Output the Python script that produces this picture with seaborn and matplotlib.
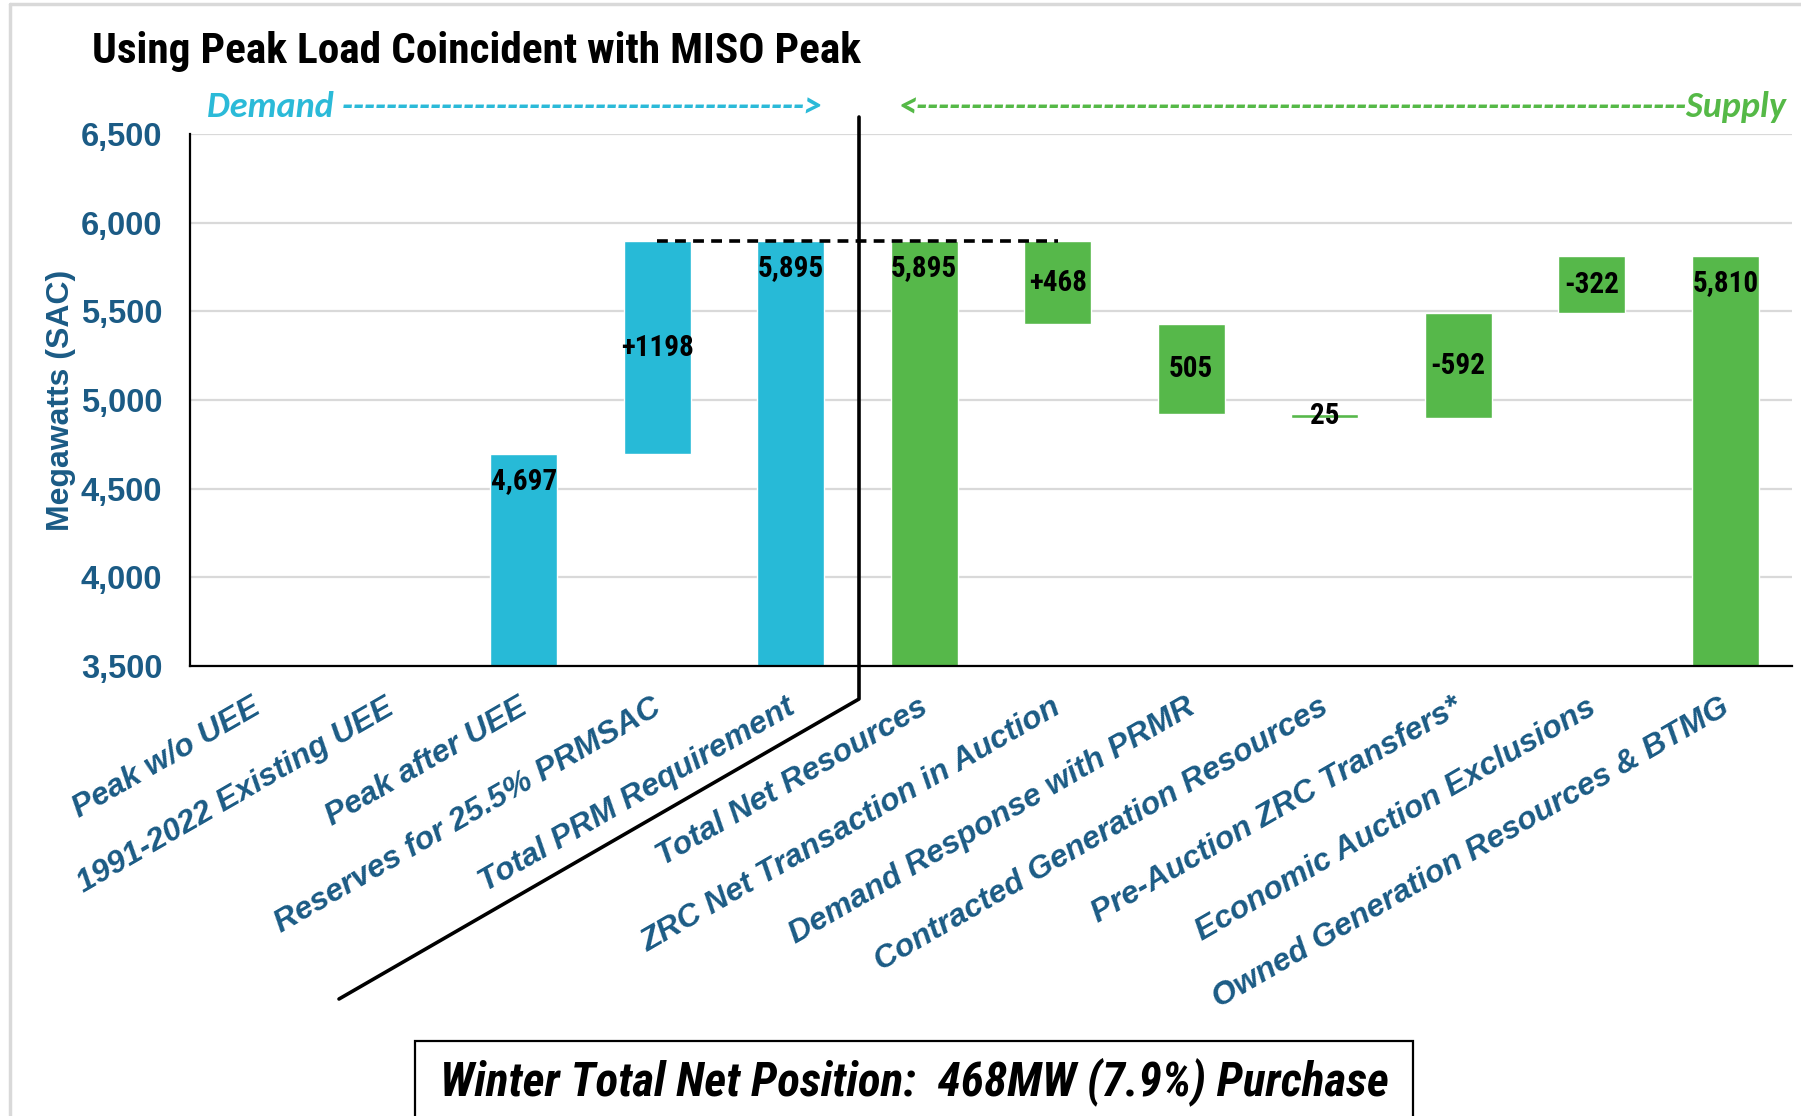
import numpy as np
import pandas as pd
import matplotlib
matplotlib.use("Agg")
import matplotlib.pyplot as plt
import matplotlib.transforms as mtransforms
import seaborn as sns
from matplotlib.lines import Line2D
from matplotlib.patches import Rectangle
from matplotlib import font_manager

# ---------------- data ----------------
categories = ["Peak w/o UEE", "1991-2022 Existing UEE", "Peak after UEE",
              "Reserves for 25.5% PRMSAC", "Total PRM Requirement",
              "Total Net Resources", "ZRC Net Transaction in Auction",
              "Demand Response with PRMR", "Contracted Generation Resources",
              "Pre-Auction ZRC Transfers*", "Economic Auction Exclusions",
              "Owned Generation Resources & BTMG"]
side = ["Demand"] * 5 + ["Supply"] * 7
step_kind = [None, None, "total", "up", "total", "total",
             "down", "down", "down", "down", "down", "total"]
values = [np.nan, np.nan, 4697, 1198, 5895, 5895, 468, 505, 25, -592, -322, 5810]
bar_labels = ["", "", "4,697", "+1198", "5,895", "5,895",
              "+468", "505", "25", "-592", "-322", "5,810"]
y_ticks = [3500, 4000, 4500, 5000, 5500, 6000, 6500]
title = "Using Peak Load Coincident with MISO Peak"
y_label = "Megawatts (SAC)"
footer = "Winter Total Net Position:  468MW (7.9%) Purchase"

# ---------------- styling ----------------
W, H = 1801, 1116
CYAN = "#27BAD7"
GREEN = "#56B84A"
NAVY = "#1B5B85"
GRID = "#D9D9D9"

sns.set_theme(style="white")
ttf = font_manager.fontManager.ttflist
names = {f.name for f in ttf}
def pick(*fams):
    for f in fams:
        if f in names:
            return f
    return "DejaVu Sans"
BASE = pick("Liberation Sans", "Arial", "DejaVu Sans")
CAL = pick("Carlito", "Calibri", "Lato", "Open Sans")
COND = pick("Liberation Sans Narrow", "Arial Narrow", "Roboto Condensed",
            "Liberation Sans")
plt.rcParams["font.family"] = [BASE, "DejaVu Sans"]

fig = plt.figure(figsize=(W / 100, H / 100), dpi=100)
ax = fig.add_axes([190 / W, 1 - 666 / H, 1602 / W, 532 / H])

# waterfall geometry from the values
lows, highs = [], []
level = np.nan
for v, k in zip(values, step_kind):
    if k is None:
        lo, hi = np.nan, np.nan
    elif k == "total":
        lo, hi = y_ticks[0], v
        level = v
    elif k == "up":
        lo, hi = level, level + v
        level = hi
    else:  # supply steps: level moves by -value
        new = level - v
        lo, hi = min(level, new), max(level, new)
        level = new
    lows.append(lo)
    highs.append(hi)

df = pd.DataFrame({"category": categories, "side": side,
                   "low": lows, "high": highs})
df["height"] = df["high"] - df["low"]

for grp, col in [("Demand", CYAN), ("Supply", GREEN)]:
    sub = df[(df["side"] == grp) & df["height"].notna()]
    sns.barplot(data=sub, x="category", y="height", order=categories,
                color=col, saturation=1, width=0.5, errorbar=None,
                bottom=sub["low"].to_numpy(), ax=ax, zorder=2)

ax.set_xlim(-0.5, len(categories) - 0.5)
ax.set_ylim(y_ticks[0], y_ticks[-1])
ax.set_yticks(y_ticks)
ax.set_yticklabels([f"{v:,}" for v in y_ticks], fontsize=23.5,
                   fontweight="bold", color=NAVY)
ax.set_axisbelow(True)
ax.yaxis.grid(True, color=GRID, linewidth=1.6)
ax.xaxis.grid(False)
for s in ["top", "right"]:
    ax.spines[s].set_visible(False)
for s in ["left", "bottom"]:
    ax.spines[s].set_color("black")
    ax.spines[s].set_linewidth(1.6)
ax.tick_params(axis="y", length=0, pad=20)
ax.tick_params(axis="x", length=0, pad=19)

ax.set_xticks(range(len(categories)))
ax.set_xticklabels(categories, rotation=30, ha="right", va="top",
                   rotation_mode="anchor", fontsize=23, fontweight="bold",
                   fontstyle="italic", color=NAVY)
shift = mtransforms.ScaledTranslation(-6 / 100, 0, fig.dpi_scale_trans)
for t in ax.get_xticklabels():
    t.set_transform(t.get_transform() + shift)
ax.set_xlabel("")
ax.set_ylabel(y_label, fontsize=23, fontweight="bold", color=NAVY)
ax.yaxis.set_label_coords(-0.071, 0.5)

# bar value labels
lab_kw = dict(fontsize=21, fontweight="bold", color="black", zorder=5,
              family=[COND, "DejaVu Sans"])
for i, (lab, k) in enumerate(zip(bar_labels, step_kind)):
    if not lab:
        continue
    if k == "total":
        ax.annotate(lab, xy=(i, highs[i]), xytext=(0, -19.5),
                    textcoords="offset points", ha="center", va="center", **lab_kw)
    else:
        ax.annotate(lab, xy=(i, (lows[i] + highs[i]) / 2), ha="center",
                    va="center", **lab_kw)

# dashed connector at the requirement level
ax.plot([3, 6], [values[4], values[4]], color="black", linestyle=(0, (3, 2)),
        linewidth=2.6, zorder=4, clip_on=False)

# separator line between demand and supply
def fx(px):
    return px / W
def fy(py):
    return 1 - py / H
fig.add_artist(Line2D([fx(859), fx(859), fx(339)], [fy(117), fy(699), fy(999)],
                      color="black", linewidth=2.6))

# frame lines of the slide
fig.add_artist(Line2D([fx(10), fx(10)], [0, fy(4)], color=GRID, linewidth=2.5))
fig.add_artist(Line2D([fx(10), 1], [fy(4), fy(4)], color=GRID, linewidth=2.5))

renderer = fig.canvas.get_renderer()

def fit_width(txt, target, start):
    size = start
    txt.set_fontsize(size)
    while txt.get_window_extent(renderer).width > target and size > 8:
        size -= 0.25
        txt.set_fontsize(size)

# title
tt = fig.text(fx(92), fy(52), title, fontweight="bold",
              color="black", ha="left", va="center",
              family=[COND, "DejaVu Sans"])
fit_width(tt, 775, 40)

# Demand / Supply arrows made of text
dem = fig.text(fx(207), fy(107), "Demand ->", fontsize=26, fontweight="bold",
               fontstyle="italic", color="#2BBAD8", ha="left", va="center",
               family=[CAL, "DejaVu Sans"])
k = 5
while True:
    dem.set_text("Demand " + "-" * (k + 1) + ">")
    if dem.get_window_extent(renderer).width > 822 - 207 or k > 200:
        dem.set_text("Demand " + "-" * k + ">")
        break
    k += 1
sup = fig.text(fx(1787), fy(107), "<-Supply", fontsize=26, fontweight="bold",
               fontstyle="italic", color="#55B947", ha="right", va="center",
               family=[CAL, "DejaVu Sans"])
k = 5
while True:
    sup.set_text("<" + "-" * (k + 1) + "Supply")
    if sup.get_window_extent(renderer).width > 1787 - 895 or k > 300:
        sup.set_text("<" + "-" * k + "Supply")
        break
    k += 1

# footer box
fig.add_artist(Rectangle((fx(415), fy(1130)), fx(1413) - fx(415),
                         fy(1041) - fy(1130), transform=fig.transFigure,
                         fill=False, edgecolor="black", linewidth=1.6))
ft = fig.text(fx(914), fy(1082), footer, fontweight="bold",
              fontstyle="italic", color="black", ha="center", va="center",
              family=[COND, "DejaVu Sans"])
fit_width(ft, 950, 48)

fig.savefig("out.png", dpi=100)
